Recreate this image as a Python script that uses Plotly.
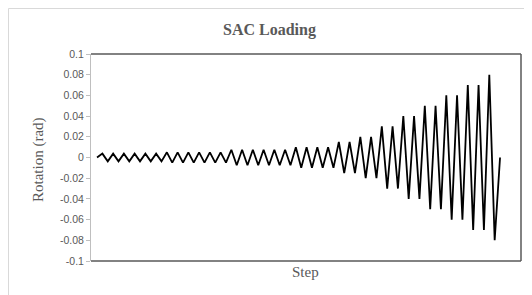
import plotly.graph_objects as go

# Loading protocol: (amplitude in rad, number of cycles)
amplitudes = [0.00375, 0.005, 0.0075, 0.01, 0.015, 0.02, 0.03, 0.04, 0.05, 0.06, 0.07, 0.08]
cycles = [6, 6, 6, 4, 2, 2, 2, 2, 2, 2, 2, 1]

rotation = [0.0]
for a, n in zip(amplitudes, cycles):
    for _ in range(n):
        rotation.append(a)
        rotation.append(-a)
rotation.append(0.0)
steps = list(range(len(rotation)))

y_tick_vals = [0.1, 0.08, 0.06, 0.04, 0.02, 0, -0.02, -0.04, -0.06, -0.08, -0.1]
y_tick_text = ["0.1", "0.08", "0.06", "0.04", "0.02", "0", "-0.02", "-0.04", "-0.06", "-0.08", "-0.1"]

OFF = 8  # page body margin
W, H = 532 - OFF, 295 - OFF
L, R, T, B = 91 - OFF, 532 - 521, 54 - OFF, 295 - 261
pw, ph = W - L - R, H - T - B

def px(x):  # screen x -> paper
    return (x - OFF - L) / pw

def py(y):  # screen y -> paper
    return (H - B - (y - OFF)) / ph

fig = go.Figure()
fig.add_trace(go.Scatter(x=steps, y=rotation, mode="lines",
                         line=dict(color="black", width=1.8), hoverinfo="skip"))

grey = "#595959"
fig.update_layout(
    width=W, height=H,
    margin=dict(l=L, r=R, t=T, b=B),
    paper_bgcolor="white", plot_bgcolor="white",
    showlegend=False,
    xaxis=dict(range=[-1.12, 78.9], showticklabels=False, ticks="", showgrid=False,
               zeroline=False, showline=False),
    yaxis=dict(range=[-0.1, 0.1], tickvals=y_tick_vals, ticktext=y_tick_text,
               ticks="outside", ticklen=4, tickcolor="#bfbfbf", tickwidth=1,
               showgrid=False, zeroline=False, showline=True, linecolor="#bfbfbf",
               linewidth=1, tickfont=dict(family="Liberation Sans", size=10.5, color=grey)),
    shapes=[
        # outer chart border
        dict(type="rect", xref="paper", yref="paper", x0=px(8.5), x1=px(545), y0=py(310), y1=py(8.5),
             line=dict(color="#d9d9d9", width=1), layer="below"),
        # plot area border (top, right, bottom)
        dict(type="line", xref="paper", yref="paper", x0=0, x1=1, y0=1, y1=1,
             line=dict(color=grey, width=1.5)),
        dict(type="line", xref="paper", yref="paper", x0=1, x1=1, y0=0, y1=1,
             line=dict(color=grey, width=1.5)),
        dict(type="line", xref="paper", yref="paper", x0=0, x1=1, y0=0, y1=0,
             line=dict(color=grey, width=1.5)),
    ],
    annotations=[
        dict(text="<b>SAC Loading</b>", xref="paper", yref="paper", x=px(269), y=py(30),
             showarrow=False, xanchor="center", yanchor="middle",
             font=dict(family="Liberation Serif", size=16, color=grey)),
        dict(text="Step", xref="paper", yref="paper", x=px(305), y=py(272),
             showarrow=False, xanchor="center", yanchor="middle",
             font=dict(family="Liberation Serif", size=15, color=grey)),
        dict(text="Rotation (rad)", xref="paper", yref="paper", x=px(38), y=py(160),
             showarrow=False, xanchor="center", yanchor="middle", textangle=-90,
             font=dict(family="Liberation Serif", size=15, color=grey)),
    ],
)

fig.write_html("out.html")
